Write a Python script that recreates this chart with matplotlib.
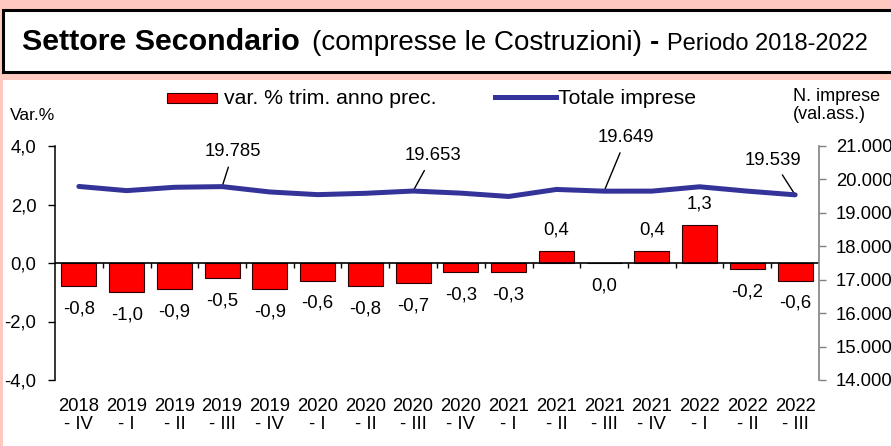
import matplotlib
matplotlib.use('Agg')
import matplotlib.pyplot as plt
from matplotlib.patches import Rectangle
from matplotlib.lines import Line2D
from matplotlib.ticker import FuncFormatter, FixedLocator
import numpy as np

plt.rcParams['font.family'] = ['Liberation Sans', 'DejaVu Sans']

# ---------------- data ----------------
periods = ["2018\n- IV", "2019\n- I", "2019\n- II", "2019\n- III", "2019\n- IV",
           "2020\n- I", "2020\n- II", "2020\n- III", "2020\n- IV",
           "2021\n- I", "2021\n- II", "2021\n- III", "2021\n- IV",
           "2022\n- I", "2022\n- II", "2022\n- III"]
var_pct = [-0.8, -1.0, -0.9, -0.5, -0.9, -0.6, -0.8, -0.7, -0.3,
           -0.3, 0.4, 0.0, 0.4, 1.3, -0.2, -0.6]
totale_imprese = [19790, 19665, 19765, 19785, 19625, 19545, 19585, 19653,
                  19590, 19490, 19700, 19649, 19650, 19780, 19650, 19539]
labeled_idx = [3, 7, 11, 15]
label_offsets = [(8, 25), (14, 25.5), (16, 38.5), (-16, 25)]  # points

left_ticks = [-4, -2, 0, 2, 4]
right_ticks = [14000, 15000, 16000, 17000, 18000, 19000, 20000, 21000]

PINK = '#FFC9BF'
RED = '#FF0000'
NAVY = '#333399'

W, H = 891, 446
fig = plt.figure(figsize=(W / 100, H / 100), dpi=100, facecolor=PINK)

def fx(px):
    return px / W

def fy(py):
    return 1 - py / H

# title box and white panel
fig.patches.append(Rectangle((fx(3), fy(72)), fx(905), 62 / H, transform=fig.transFigure,
                             facecolor='white', edgecolor='black', lw=2.2, zorder=-2))
fig.patches.append(Rectangle((fx(3), -0.1), 1.2, (446 - 80) / H + 0.1, transform=fig.transFigure,
                             facecolor='white', edgecolor='none', zorder=-2))

ax = fig.add_axes([fx(55), fy(380), 764 / W, 234 / H])
ax.patch.set_alpha(0)
x = np.arange(len(periods))

bars = ax.bar(x, var_pct, width=0.73, color=RED, edgecolor='#2a0000', linewidth=0.8, zorder=2)
ax.set_xlim(-0.5, len(periods) - 0.5)
ax.set_ylim(-4, 4)
ax.yaxis.set_major_locator(FixedLocator(left_ticks))
ax.yaxis.set_major_formatter(FuncFormatter(lambda v, p: f"{v:.1f}".replace('.', ',')))
ax.axhline(0, color='black', lw=1.2, zorder=3)
ax.vlines(np.arange(1, len(periods)) - 0.5, -0.17, 0, color='black', lw=1, zorder=3)

for s in ['top', 'right', 'bottom']:
    ax.spines[s].set_visible(False)
ax.spines['left'].set_color('black')
ax.spines['left'].set_linewidth(1.1)
ax.tick_params(axis='y', direction='out', length=5, width=1, color='black',
               labelsize=13.3, pad=8.5)
ax.set_xticks(x)
ax.set_xticklabels(periods, fontsize=13.3, linespacing=1.1)
ax.tick_params(axis='x', length=0, pad=13)

for xi, v in zip(x, var_pct):
    off = -16.5 if v <= 0 else 15
    ax.annotate(f"{v:.1f}".replace('.', ','), (xi, v), xytext=(0, off),
                textcoords='offset points', ha='center', va='center', fontsize=13.3)

ax2 = ax.twinx()
ax2.set_ylim(14000, 21000)
ax2.yaxis.set_major_locator(FixedLocator(right_ticks))
ax2.yaxis.set_major_formatter(FuncFormatter(lambda v, p: f"{int(v):,}".replace(',', '.')))
for s in ['top', 'left', 'bottom']:
    ax2.spines[s].set_visible(False)
ax2.spines['right'].set_color('#808080')
ax2.spines['right'].set_linewidth(1.2)
ax2.tick_params(axis='y', direction='out', length=5, width=1, color='#808080',
                labelsize=13.3, pad=7)
ax2.plot(x, totale_imprese, color=NAVY, lw=3.6, solid_capstyle='round',
         solid_joinstyle='round', zorder=4)

for i, off in zip(labeled_idx, label_offsets):
    ax2.annotate(f"{totale_imprese[i]:,}".replace(',', '.'), (x[i], totale_imprese[i]),
                 xytext=off, textcoords='offset points', ha='center', va='center',
                 fontsize=13.3,
                 arrowprops=dict(arrowstyle='-', color='black', lw=1, shrinkA=3, shrinkB=0))

# legend (manual)
fig.patches.append(Rectangle((fx(167), fy(103)), 50 / W, 10 / H, transform=fig.transFigure,
                             facecolor=RED, edgecolor='#2a0000', lw=0.8))
fig.text(fx(224), fy(98), "var. % trim. anno prec.", ha='left', va='center', fontsize=15.3)
fig.lines.append(Line2D([fx(495), fx(556)], [fy(97), fy(97)], transform=fig.transFigure,
                        color=NAVY, lw=3.6))
fig.text(fx(558), fy(98), "Totale imprese", ha='left', va='center', fontsize=15.3)

fig.text(fx(10), fy(115), "Var.%", ha='left', va='center', fontsize=12.5)
fig.text(fx(793), fy(105.5), "N. imprese\n(val.ass.)", ha='left', va='center',
         fontsize=13, linespacing=1.1)

# title pieces
renderer = fig.canvas.get_renderer()
pieces = [("Settore Secondario ", 21.9, 'bold', 4),
          ("(compresse le Costruzioni) ", 20, 'normal', 0),
          ("- ", 20, 'bold', 0),
          ("Periodo 2018-2022", 17, 'normal', 0)]
xpos = fx(22)
for txt, size, weight, gap in pieces:
    t = fig.text(xpos, fy(50), txt, ha='left', va='baseline', fontsize=size, fontweight=weight)
    bb = t.get_window_extent(renderer=renderer)
    xpos = bb.x1 / W + gap / W

fig.savefig('out.png', dpi=100, facecolor=PINK)
